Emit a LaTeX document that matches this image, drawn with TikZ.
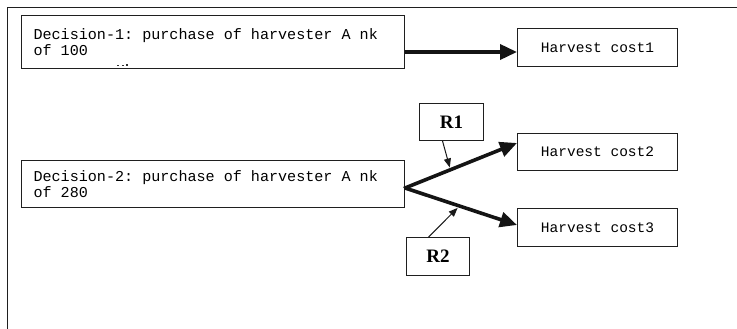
\documentclass[tikz,border=0pt]{standalone}
\usepackage{fontspec}
\setmainfont{Liberation Serif}
\newfontfamily\monofont{Liberation Mono}
% full-width spaces for monospaced text inside aligned nodes
\newcommand\fixsp{\spaceskip=0.6em\relax\xspaceskip=0.6em\relax}
\usetikzlibrary{arrows.meta,calc}

\begin{document}
\begin{tikzpicture}[x=1pt,y=-1pt,
  ink/.style={black!88},
  decbox/.style={draw=black!88,line width=1.1pt,minimum width=383pt,minimum height=50pt,
    inner xsep=12pt,text width=359pt,align=left,anchor=north west,
    font=\monofont\fontsize{15.1}{16.5}\selectfont},
  costbox/.style={draw=black!88,line width=1.1pt,minimum width=160pt,minimum height=38pt,
    anchor=north west,inner sep=0pt,font=\monofont\fontsize{14.5}{16}\selectfont},
  rbox/.style={draw=black!88,line width=1.1pt,minimum width=64pt,minimum height=37pt,
    anchor=north west,inner sep=0pt,font=\bfseries\fontsize{19}{20}\selectfont},
  bigarrow/.style={draw=black!92,line width=3.6pt,
    -{Triangle[length=17pt,width=15pt]}},
  thinarrow/.style={draw=black!90,line width=1pt,
    -{Triangle[length=9pt,width=7pt]}}
]
\useasboundingbox (0,0) rectangle (737,329);

% frame: top and left edges only
\draw[ink,line width=1.4pt] (737,7.5) -- (7.5,7.5) -- (7.5,329);

% decision boxes
\node[decbox,minimum height=53pt] (D1) at (21,15) {\fixsp Decision-1: purchase of harvester A nk\\of 100};
\node[decbox,minimum height=47pt] (D2) at (21,160) {\fixsp Decision-2: purchase of harvester A nk\\of 280};

% stray print marks inside the first box
\fill[black!80] (117,65) rectangle (119,66.2);
\fill[black!80] (121.5,65) rectangle (123.5,66.2);
\fill[black!80] (126,64) rectangle (128,66.5);

% outcome boxes
\node[costbox] (HC1) at (517,28) {Harvest cost1};
\node[costbox,minimum height=37pt] (HC2) at (517,133) {Harvest cost2};
\node[costbox,minimum height=38pt] (HC3) at (517,208) {Harvest cost3};

% risk boxes
\node[rbox] (R1) at (419,103) {R1};
\node[rbox,minimum width=63pt,minimum height=38pt] (R2) at (406,237) {R2};

% connectors
\coordinate (a1) at (404,52);
\draw[bigarrow] (D1.east |- a1) -- (HC1.west |- a1);

\coordinate (br) at (405,188);
\coordinate (t2) at (517,143);
\coordinate (t3) at (517,225);
\draw[line width=3.6pt,black!92,line join=miter] ($(D2.east)+(-1,4.5)$) -- (br);
\draw[bigarrow] (br) -- (HC2.west |- t2);
\draw[bigarrow] (br) -- (HC3.west |- t3);

\coordinate (r1tip) at ($(br)!0.40!(t2)$);
\coordinate (r2tip) at ($(br)!0.47!(t3)$);
\draw[thinarrow] ($(R1.south)+(-9,0)$) -- ($(r1tip)+(0,-2.5)$);
\draw[thinarrow] ($(R2.north)+(-9.5,0)$) -- ($(r2tip)+(0,2.5)$);
\end{tikzpicture}
\end{document}
